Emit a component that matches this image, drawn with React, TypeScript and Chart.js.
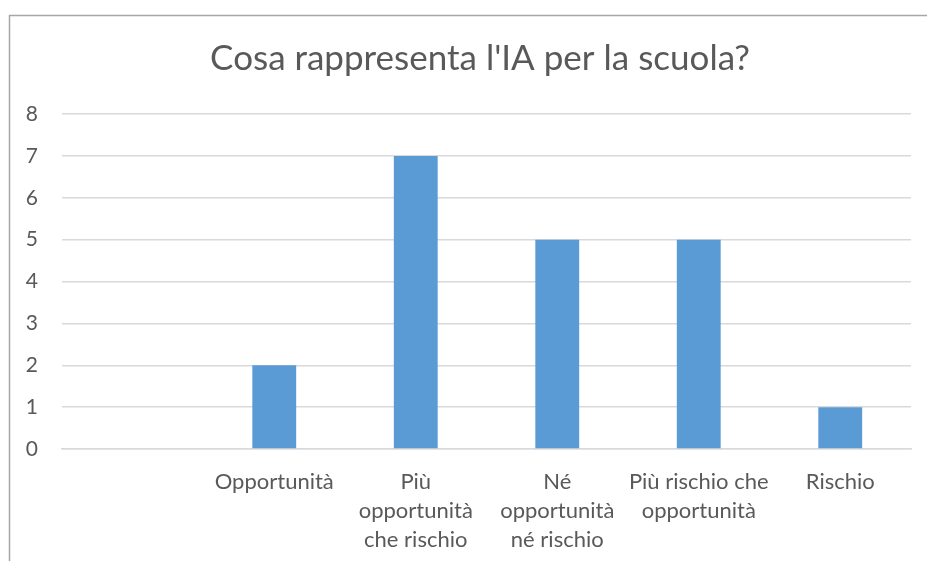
import React, { useEffect, useRef } from "react";
import { Chart, registerables } from "chart.js";

Chart.register(...registerables);

const TITLE = "Cosa rappresenta l'IA per la scuola?";
const CATEGORIES: (string | string[])[] = [
  "",
  "Opportunità",
  ["Più", "opportunità", "che rischio"],
  ["Né", "opportunità", "né rischio"],
  ["Più rischio che", "opportunità"],
  "Rischio",
];
const VALUES: (number | null)[] = [null, 2, 7, 5, 5, 1];
const Y_MIN = 0;
const Y_MAX = 8;
const Y_STEP = 1;

const FONT = "Lato, 'Open Sans', sans-serif";

export default function App() {
  const ref = useRef<HTMLCanvasElement>(null);
  useEffect(() => {
    if (!ref.current) return;
    const frame = {
      id: "frame",
      beforeDraw(chart: any) {
        const ctx = chart.ctx;
        ctx.save();
        ctx.fillStyle = "#ffffff";
        ctx.fillRect(0, 0, chart.width, chart.height);
        ctx.strokeStyle = "#A6A6A6";
        ctx.lineWidth = 1.5;
        ctx.beginPath();
        ctx.moveTo(9.5, chart.height);
        ctx.lineTo(9.5, 15.5);
        ctx.lineTo(chart.width, 15.5);
        ctx.stroke();
        ctx.restore();
      },
      afterDraw(chart: any) {
        const ctx = chart.ctx;
        ctx.save();
        ctx.fillStyle = "#595959";
        ctx.font = `35px ${FONT}`;
        ctx.textAlign = "center";
        ctx.textBaseline = "middle";
        ctx.fillText(TITLE, 480, 59);
        ctx.restore();
      },
    };
    const chart = new Chart(ref.current, {
      type: "bar",
      data: {
        labels: CATEGORIES,
        datasets: [
          {
            data: VALUES,
            backgroundColor: "#5B9BD5",
            categoryPercentage: 1,
            barPercentage: 0.31,
          },
        ],
      },
      options: {
        animation: false,
        responsive: false,
        layout: { padding: { left: 0, right: 16, top: 114, bottom: 0 } },
        plugins: {
          legend: { display: false },
          title: { display: false },
          tooltip: { enabled: false },
        },
        scales: {
          x: {
            grid: { display: false },
            border: { display: true, color: "#D9D9D9", width: 1.5 },
            ticks: {
              color: "#595959",
              font: { family: FONT, size: 22, lineHeight: 1.32 },
              padding: 10,
              maxRotation: 0,
              autoSkip: false,
            },
            afterFit(scale: any) {
              scale.height = 561 - 449;
            },
          },
          y: {
            min: Y_MIN,
            max: Y_MAX,
            ticks: {
              stepSize: Y_STEP,
              color: "#595959",
              font: { family: FONT, size: 21 },
              padding: 24,
            },
            grid: { color: "#D9D9D9", lineWidth: 1.5, drawTicks: false },
            border: { display: false },
            afterFit(scale: any) {
              scale.width = 62;
            },
          },
        },
      },
      plugins: [frame],
    });
    return () => chart.destroy();
  }, []);
  return (
    <div style={{ position: "fixed", left: 0, top: 0, width: 927, height: 561 }}>
      <canvas ref={ref} width={927} height={561} style={{ display: "block" }} />
    </div>
  );
}
